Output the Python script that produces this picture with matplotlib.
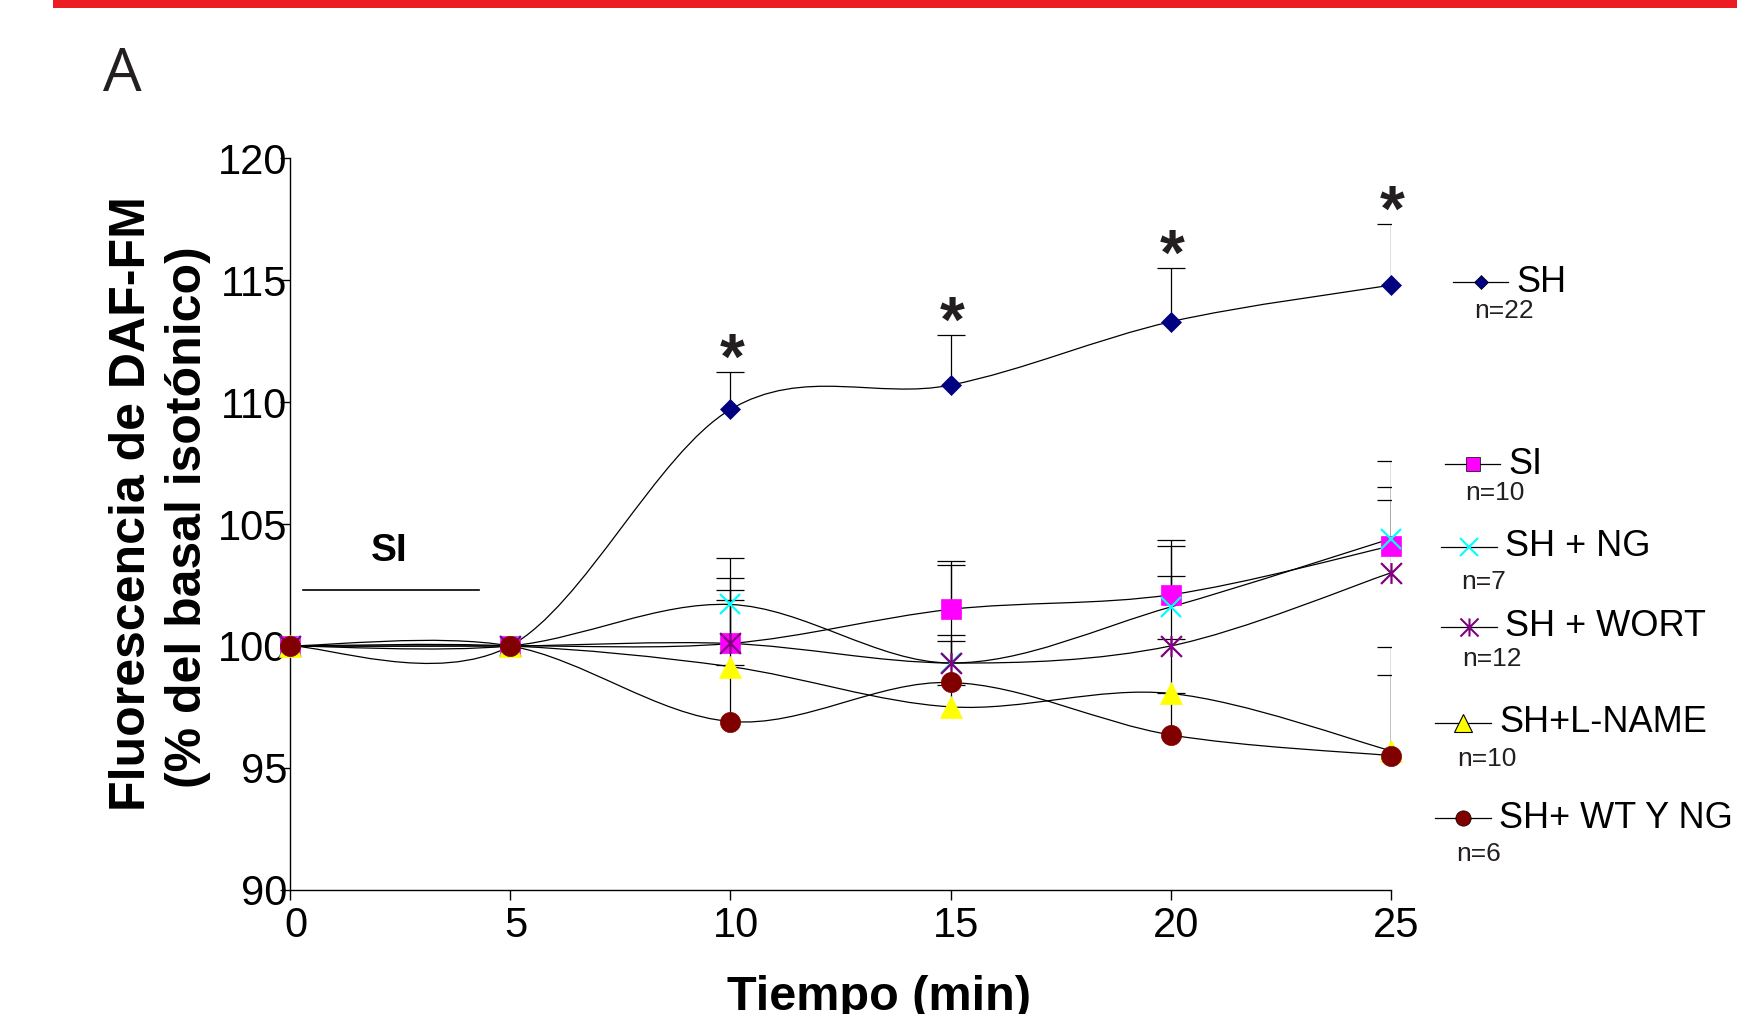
import numpy as np
import matplotlib.pyplot as plt
from matplotlib.path import Path
from matplotlib.patches import PathPatch, Rectangle
from matplotlib.lines import Line2D
from matplotlib.transforms import ScaledTranslation

plt.rcParams['font.family'] = ['Liberation Sans', 'DejaVu Sans']

# datos (% del basal isotónico), barras = error superior
tiempo = [0, 5, 10, 15, 20, 25]

sh = [100, 100, 109.7, 110.7, 113.3, 114.8]
sh_err = [0, 0, 1.55, 2.05, 2.2, 2.5]

si = [100, 100, 100.1, 101.5, 102.1, 104.1]
si_err = [0, 0, 2.7, 2.0, 2.25, 3.5]

sh_ng = [100, 100, 101.7, 99.3, 101.6, 104.4]
sh_ng_err = [0, 0, 1.9, 4.0, 2.5, 2.1]

sh_wort = [100, 100, 100.1, 99.3, 100.0, 103.0]
sh_wort_err = [0, 0, 2.2, 0.9, 2.85, 3.0]

sh_lname = [100, 100, 99.15, 97.5, 98.05, 95.7]
sh_lname_err = [0, 0, 2.75, 0.9, 2.25, 4.25]

sh_wt_ng = [100, 100, 96.9, 98.5, 96.35, 95.5]
sh_wt_ng_err = [0, 0, 2.3, 1.95, 1.7, 3.3]

nombres = ['SH', 'SI', 'SH + NG', 'SH + WORT', 'SH+L-NAME', 'SH+ WT Y NG']
n_txt = ['n=22', 'n=10', 'n=7', 'n=12', 'n=10', 'n=6']
sig_t = [10, 15, 20, 25]   # asteriscos sobre SH

series = [sh, si, sh_ng, sh_wort, sh_lname, sh_wt_ng]
errores = [sh_err, si_err, sh_ng_err, sh_wort_err, sh_lname_err, sh_wt_ng_err]

# marcador "estrella" tipo Excel (X + linea vertical)
star = Path([(-1, -1), (1, 1), (-1, 1), (1, -1), (0, -1), (0, 1)],
            [Path.MOVETO, Path.LINETO] * 3)

estilos = [
    dict(marker='D', ms=10.5, color='#000080', mec='#000080', mew=0.5),
    dict(marker='s', ms=14, color='#FF00FF', mec='#FF00FF', mew=0.5),
    dict(marker='x', ms=15, color='#00FFFF', mec='#00FFFF', mew=1.6),
    dict(marker=star, ms=15, color='#800080', mec='#800080', mew=1.6),
    dict(marker='^', ms=15.5, color='#FFFF00', mec='#FFFF00', mew=0.5),
    dict(marker='o', ms=14.5, color='#800000', mec='#800000', mew=0.5),
]
estilos_ley = [
    dict(marker='D', ms=7.5, mfc='#000080', mec='black', mew=0.5),
    dict(marker='s', ms=10, mfc='#FF00FF', mec='black', mew=0.5),
    dict(marker='x', ms=13, mec='#00FFFF', mew=1.5),
    dict(marker=star, ms=13, mec='#800080', mew=1.5),
    dict(marker='^', ms=12.5, mfc='#FFFF00', mec='black', mew=0.8),
    dict(marker='o', ms=11, mfc='#800000', mec='black', mew=0.5),
]


def smooth_path(x, y):
    # curva suavizada estilo Excel (Bezier por los puntos)
    pts = np.column_stack([x, y]).astype(float)
    n = len(pts)
    verts = [pts[0]]
    codes = [Path.MOVETO]
    for i in range(n - 1):
        p0 = pts[max(i - 1, 0)]
        p3 = pts[min(i + 2, n - 1)]
        verts += [pts[i] + (pts[i + 1] - p0) / 6, pts[i + 1] - (p3 - pts[i]) / 6, pts[i + 1]]
        codes += [Path.CURVE4] * 3
    return Path(verts, codes)


W, H = 1737, 1014
fig = plt.figure(figsize=(W / 100, H / 100), dpi=100)


def fx(px):
    return px / W


def fy(py):
    return 1 - py / H


# barra roja superior
fig.add_artist(Rectangle((fx(53), fy(8)), 1, 8 / H, transform=fig.transFigure,
                         color='#ED1C24', lw=0))
fig.text(fx(103), fy(91), 'A', fontsize=44, family=['Open Sans', 'DejaVu Sans'],
         color='#231F20', ha='left', va='baseline')

ax = fig.add_axes([fx(290), fy(889.7), (1391 - 290) / W, (889.7 - 158.4) / H])

for i, (vals, err) in enumerate(zip(series, errores)):
    ax.add_patch(PathPatch(smooth_path(tiempo, vals), fill=False, edgecolor='black',
                           lw=0.9, zorder=2))
    t = np.array(tiempo)
    v = np.array(vals)
    e = np.array(err)
    m = e > 0
    eb = ax.errorbar(t[m], v[m], yerr=[np.zeros(m.sum()), e[m]], fmt='none',
                     ecolor='black', elinewidth=0.9, capsize=10, capthick=0.9, zorder=2)
    eb[1][0].set_visible(False)

for i, vals in enumerate(series):
    ax.plot(tiempo, vals, linestyle='none', clip_on=False, zorder=3 + i, **estilos[i])

# asteriscos de significancia
for t in sig_t:
    k = tiempo.index(t)
    ax.annotate('*', (t, sh[k] + sh_err[k]), xytext=(1, -5), textcoords='offset points',
                ha='center', va='baseline', fontsize=46, fontweight='bold', color='#231F20')

# periodo SI
ax.plot([0.3, 4.3], [102.3, 102.3], color='black', lw=1.2)
ax.text(2.25, 103.9, 'SI', ha='center', va='center', fontsize=28, fontweight='bold')

ax.set_xlim(0, 25)
ax.set_ylim(90, 120)
ax.set_xticks(range(0, 26, 5))
ax.set_yticks(range(90, 121, 5))
ax.spines['top'].set_visible(False)
ax.spines['right'].set_visible(False)
for s in ['left', 'bottom']:
    ax.spines[s].set_linewidth(1.0)
ax.tick_params(axis='both', direction='out', length=7, width=1, labelsize=30)
ax.tick_params(axis='y', pad=-5)
ax.tick_params(axis='x', pad=5)
for lab in ax.get_xticklabels():
    lab.set_transform(lab.get_transform() + ScaledTranslation(4 / 72, 0, fig.dpi_scale_trans))

fig.text(fx(145), fy(504), 'Fluorescencia de DAF-FM', rotation=90, rotation_mode='anchor',
         ha='center', va='baseline', fontsize=36, fontweight='bold')
fig.text(fx(201), fy(517), '(% del basal isotónico)', rotation=90, rotation_mode='anchor',
         ha='center', va='baseline', fontsize=36, fontweight='bold')
fig.text(fx(879), fy(1010), 'Tiempo (min)', ha='center', va='baseline',
         fontsize=35, fontweight='bold')

# leyenda a mano
ley_pos = [
    (1453, 1508, 282, 1516, 1474, 311),
    (1445, 1500, 464, 1508, 1465, 493),
    (1441, 1497, 547, 1505, 1461, 582),
    (1441, 1497, 627, 1505, 1462, 659),
    (1435, 1491, 723, 1499, 1457, 759),
    (1435, 1491, 818, 1499, 1456, 854),
]
for i, (x0, x1, ly, tx, nx, ny) in enumerate(ley_pos):
    fig.add_artist(Line2D([fx(x0), fx(x1)], [fy(ly), fy(ly)], transform=fig.transFigure,
                          color='black', lw=0.9))
    fig.add_artist(Line2D([fx((x0 + x1) / 2)], [fy(ly)], transform=fig.transFigure,
                          linestyle='none', **estilos_ley[i]))
    fig.text(fx(tx), fy(ly), nombres[i], ha='left', va='center', fontsize=26)
    fig.text(fx(nx), fy(ny), n_txt[i], ha='left', va='center', fontsize=19, color='#231F20')

fig.savefig('out.png', dpi=100)
